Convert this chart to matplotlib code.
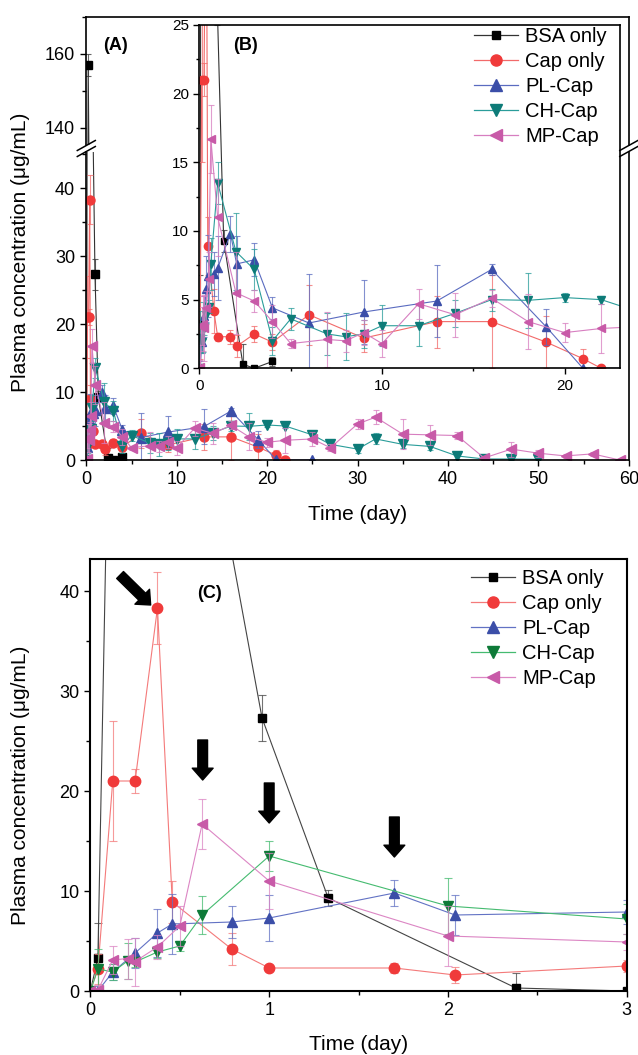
import matplotlib
matplotlib.use("Agg")
import matplotlib.pyplot as plt
from matplotlib.lines import Line2D
from matplotlib.ticker import MultipleLocator

plt.rcParams['font.family'] = ['Liberation Sans', 'DejaVu Sans']

W, H = 638, 1055

# ---- data (time in days, concentration in ug/mL, +/- error) ----
t_bsa = [0, 0.042, 0.208, 0.5, 0.96, 1.33, 2.38, 3, 4]
c_bsa = [0, 3.3, 157, 72, 27.3, 9.3, 0.3, 0, 0.5]
e_bsa = [0, 3.5, 3, 0, 2.3, 0.8, 1.5, 0, 0.3]

t_cap = [0, 0.042, 0.125, 0.25, 0.375, 0.458, 0.79, 1, 1.7, 2.04, 3, 4, 6, 9, 13, 16, 19, 21, 22]
c_cap = [0, 2.2, 21, 21, 38.3, 8.9, 4.2, 2.3, 2.3, 1.6, 2.5, 1.9, 3.9, 2.2, 3.4, 3.4, 1.9, 0.7, 0]
e_cap = [0, 1.5, 6, 1.2, 3.6, 2.1, 1.6, 0.3, 0.5, 0.8, 0.6, 0.6, 2.2, 1.0, 1.9, 3.4, 1.9, 0.7, 0]

t_pl = [0, 0.042, 0.125, 0.25, 0.375, 0.458, 0.79, 1, 1.7, 2.04, 3, 4, 6, 9, 13, 16, 19, 21, 25]
c_pl = [0, 0, 1.9, 3.8, 5.8, 6.7, 6.9, 7.3, 9.8, 7.6, 7.9, 4.4, 3.3, 4.1, 4.9, 7.2, 3.0, 0, 0]
e_pl = [0, 0.5, 0.8, 1.5, 2.4, 3.0, 1.6, 2.3, 1.3, 2.0, 1.2, 0.8, 3.6, 2.3, 2.6, 0.4, 1.3, 0, 0]

t_ch = [0, 0.042, 0.125, 0.208, 0.25, 0.375, 0.5, 0.625, 1, 2, 3, 4, 5, 7, 8, 9, 10, 12,
        14, 16, 18, 20, 22, 25, 27, 30, 32, 35, 38, 41, 44, 47, 50]
c_ch = [0, 2.2, 1.9, 3.0, 2.9, 3.9, 4.5, 7.6, 13.5, 8.5, 7.2, 2.0, 3.6, 2.5, 2.3, 2.5, 3.1, 3.1,
        4.0, 5.0, 4.95, 5.15, 5.0, 3.7, 2.3, 1.6, 3.1, 2.3, 2.0, 0.6, 0.15, 0.15, 0.1]
e_ch = [0, 2.0, 0.8, 1.8, 0.5, 0.6, 0.5, 1.9, 1.5, 2.8, 1.5, 1.0, 0.8, 1.5, 1.7, 1.0, 1.5, 1.5,
        1.0, 0.8, 2.0, 0.3, 0.3, 0.6, 0.4, 0.6, 0.8, 0.5, 0.6, 0.5, 0.2, 0.2, 0.2]

t_mp = [0, 0.042, 0.125, 0.208, 0.25, 0.375, 0.5, 0.625, 1, 2, 3, 4, 5, 7, 8, 9, 10, 12,
        14, 16, 18, 20, 22, 25, 27, 30, 32, 35, 38, 41, 44, 47, 50, 53, 56, 59]
c_mp = [0, 0.1, 3.1, 3.25, 2.95, 4.4, 6.5, 16.7, 11.0, 5.5, 4.9, 3.4, 1.8, 2.1, 2.0, 2.6, 1.8, 4.7,
        3.9, 5.1, 3.4, 2.6, 2.9, 3.1, 1.8, 5.3, 6.3, 3.8, 3.7, 3.6, 0.3, 1.6, 1.0, 0.6, 0.9, 0]
e_mp = [0, 0.5, 1.4, 2.0, 2.4, 1.2, 2.0, 2.5, 2.8, 3.0, 0.8, 1.2, 0.3, 2.0, 0.8, 0.9, 1.0, 1.1,
        1.6, 0.6, 2.0, 0.7, 1.8, 1.0, 0.5, 0.8, 1.0, 2.2, 1.5, 0.5, 0.3, 1.1, 0.5, 0.3, 0.3, 0]

names = ['BSA only', 'Cap only', 'PL-Cap', 'CH-Cap', 'MP-Cap']
series = [(t_bsa, c_bsa, e_bsa), (t_cap, c_cap, e_cap), (t_pl, c_pl, e_pl),
          (t_ch, c_ch, e_ch), (t_mp, c_mp, e_mp)]
markers = ['s', 'o', '^', 'v', '<']

# marker colour, line colour
cols_ab = [('black', '#333333'), ('#f03a3a', '#f26a6a'), ('#3b4ea8', '#5a6bc0'),
           ('#0d7b78', '#2a9d9a'), ('#c85aa8', '#d77ec0')]
cols_c = [('black', '#444444'), ('#f03a3a', '#f47a7a'), ('#3b4ea8', '#6272c4'),
          ('#0e7a38', '#45bb70'), ('#c85aa8', '#dc86c4')]

# arrows in panel C: (tail x, tail y, tip x, tip y)
arrows_c = [(0.166, 41.6, 0.337, 38.6), (0.628, 25.1, 0.628, 21.1),
            (1.0, 20.8, 1.0, 16.8), (1.70, 17.4, 1.70, 13.4)]

fig = plt.figure(figsize=(W / 100, H / 100), dpi=100)


def box(l, t, r, b):
    return [l / W, 1 - b / H, (r - l) / W, (b - t) / H]


def draw(ax, cols, ms, lw=0.8, cap=2.5):
    for (t, c, e), mk, (mc, lc) in zip(series, markers, cols):
        ax.errorbar(t, c, yerr=e, fmt='none', ecolor=lc, elinewidth=0.8,
                    capsize=cap, capthick=0.8, alpha=0.75)
        ax.plot(t, c, marker=mk, color=lc, mfc=mc, mec=mc, lw=lw,
                ms=ms * 0.8 if mk == 's' else ms)


def style(ax, size=13, major=4.5, minor=3):
    ax.tick_params(which='both', direction='out', labelsize=size, width=1)
    ax.tick_params(which='major', length=major)
    ax.tick_params(which='minor', length=minor)
    for s in ax.spines.values():
        s.set_linewidth(1.2)


def brk(x, y):
    for dy in (-3, 3):
        fig.add_artist(Line2D([(x - 9) / W, (x + 9) / W],
                              [1 - (y + dy + 5) / H, 1 - (y + dy - 5) / H],
                              color='black', lw=1.1))


def proxies(cols, ms):
    return [Line2D([], [], marker=mk, color=lc, mfc=mc, mec=mc, lw=0.9,
                   ms=ms * 0.8 if mk == 's' else ms)
            for mk, (mc, lc) in zip(markers, cols)]


# ---- panel A (broken y axis) ----
axU = fig.add_axes(box(86.3, 16.7, 628.8, 145))
axL = fig.add_axes(box(86.3, 152, 628.8, 460))
for ax in (axU, axL):
    draw(ax, cols_ab, 6.5)
    ax.set_xlim(0, 60)
    style(ax)
axU.set_ylim(135.3, 170.1)
axU.spines['bottom'].set_visible(False)
axU.tick_params(axis='x', which='both', bottom=False, labelbottom=False)
axU.yaxis.set_major_locator(MultipleLocator(20))
axU.yaxis.set_minor_locator(MultipleLocator(10))
axL.set_ylim(0, 45.3)
axL.spines['top'].set_visible(False)
axL.xaxis.set_major_locator(MultipleLocator(10))
axL.xaxis.set_minor_locator(MultipleLocator(5))
axL.yaxis.set_major_locator(MultipleLocator(10))
axL.yaxis.set_minor_locator(MultipleLocator(5))
axL.set_xlabel('Time (day)', fontsize=15)
axL.xaxis.set_label_coords(0.5, -0.146)
axL.set_ylabel('Plasma concentration (μg/mL)', fontsize=15)
axL.yaxis.set_label_coords(-0.104, 0.675)
brk(86.3, 148.5)
brk(628.8, 148.5)

# ---- inset B ----
axB = fig.add_axes(box(199.4, 25, 619.5, 368.3))
axB.set_facecolor('white')
draw(axB, cols_ab, 6)
axB.set_xlim(0, 23)
axB.set_ylim(0, 25)
axB.xaxis.set_major_locator(MultipleLocator(10))
axB.xaxis.set_minor_locator(MultipleLocator(5))
axB.yaxis.set_major_locator(MultipleLocator(5))
axB.yaxis.set_minor_locator(MultipleLocator(2.5))
style(axB, size=11, major=4, minor=2.5)
axB.legend(proxies(cols_ab, 8), names, loc='upper left',
           bbox_to_anchor=(474 / W, 1 - 27 / H), bbox_transform=fig.transFigure,
           frameon=False, fontsize=14.5, handlelength=2.2, handletextpad=0.35,
           labelspacing=0.3, borderpad=0, borderaxespad=0)

fig.text(115 / W, 1 - 45 / H, '(A)', fontsize=13, fontweight='bold', ha='center', va='center')
fig.text(245 / W, 1 - 45 / H, '(B)', fontsize=13, fontweight='bold', ha='center', va='center')

# ---- panel C ----
axC = fig.add_axes(box(90.4, 559, 626.8, 991))
draw(axC, cols_c, 7.5, lw=0.8, cap=3)
axC.set_xlim(0, 3)
axC.set_ylim(0, 43.2)
axC.xaxis.set_major_locator(MultipleLocator(1))
axC.xaxis.set_minor_locator(MultipleLocator(0.5))
axC.yaxis.set_major_locator(MultipleLocator(10))
axC.yaxis.set_minor_locator(MultipleLocator(5))
style(axC)
for s in axC.spines.values():
    s.set_linewidth(1.5)
axC.set_xlabel('Time (day)', fontsize=15)
axC.xaxis.set_label_coords(0.5, -0.102)
axC.set_ylabel('Plasma concentration (μg/mL)', fontsize=15)
axC.yaxis.set_label_coords(-0.1126, 0.477)
for x0, y0, x1, y1 in arrows_c:
    axC.annotate('', xy=(x1, y1), xytext=(x0, y0),
                 arrowprops=dict(facecolor='black', edgecolor='black',
                                 width=7, headwidth=15, headlength=8.5))
fig.text(209 / W, 1 - 593 / H, '(C)', fontsize=13, fontweight='bold',
         ha='center', va='center')
axC.legend(proxies(cols_c, 8), names, loc='upper left',
           bbox_to_anchor=(471 / W, 1 - 569 / H), bbox_transform=fig.transFigure,
           frameon=False, fontsize=14.5, handlelength=2.2, handletextpad=0.35,
           labelspacing=0.3, borderpad=0, borderaxespad=0)

fig.savefig('out.png', dpi=100)
